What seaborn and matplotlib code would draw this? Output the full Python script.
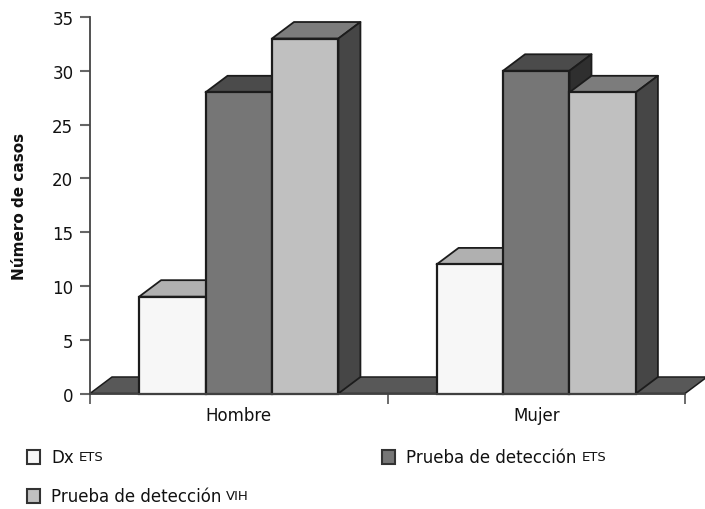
import matplotlib
matplotlib.use("Agg")
import matplotlib.pyplot as plt
from matplotlib.patches import Polygon
import pandas as pd
import seaborn as sns

categories = ["Hombre", "Mujer"]
series_names = ["Dx ETS", "Prueba de detección ETS", "Prueba de detección VIH"]
dx_ets = [9, 12]
prueba_ets = [28, 30]
prueba_vih = [33, 28]
y_ticks = [0, 5, 10, 15, 20, 25, 30, 35]

front_colors = ["#f7f7f7", "#767676", "#c0c0c0"]
top_colors = ["#b0b0b0", "#4b4b4b", "#7c7c7c"]
side_colors = ["#8a8a8a", "#2f2f2f", "#464646"]
edge = "#1c1c1c"
floor_color = "#585858"
text_color = "#111111"

sns.set_theme(style="white")
plt.rcParams["font.family"] = ["DejaVu Sans"]

df = pd.DataFrame({
    "cat": categories * 3,
    "serie": [s for s in series_names for _ in categories],
    "val": dx_ets + prueba_ets + prueba_vih,
})

W, H = 705, 510
fig = plt.figure(figsize=(W / 100, H / 100), dpi=100, facecolor="white")
ax = fig.add_axes([90 / W, 1 - 394.5 / H, 595 / W, 376.5 / H])

sns.barplot(data=df, x="cat", y="val", hue="serie", hue_order=series_names,
            palette=front_colors, saturation=1, width=0.67, gap=0, dodge=True,
            edgecolor=edge, linewidth=1.6, legend=False, ax=ax)

ax.set_xlim(-0.5, 1.5)
ax.set_ylim(0, 35)

ddx = 22 / 297.5
ddy = 16.5 / (376.5 / 35)

ax.add_patch(Polygon([(-0.5, 0), (-0.5 + ddx, ddy), (1.5 + ddx, ddy), (1.5, 0)],
                     closed=True, facecolor=floor_color, edgecolor=edge, linewidth=1.1,
                     clip_on=False, zorder=1))

tagged = []
for s_i, container in enumerate(ax.containers):
    for b in container:
        tagged.append((b.get_x(), s_i, b))
tagged.sort(key=lambda t: t[0])
z = 2
for x0, s_i, b in tagged:
    w, h = b.get_width(), b.get_height()
    ax.add_patch(Polygon([(x0, h), (x0 + ddx, h + ddy), (x0 + w + ddx, h + ddy), (x0 + w, h)],
                         closed=True, facecolor=top_colors[s_i], edgecolor=edge,
                         linewidth=1.3, clip_on=False, zorder=z, joinstyle="round"))
    ax.add_patch(Polygon([(x0 + w, 0), (x0 + w + ddx, ddy), (x0 + w + ddx, h + ddy), (x0 + w, h)],
                         closed=True, facecolor=side_colors[s_i], edgecolor=edge,
                         linewidth=1.3, clip_on=False, zorder=z + 1, joinstyle="round"))
    b.set_zorder(z + 2)
    b.set_clip_on(False)
    z += 3

for s in ["top", "right"]:
    ax.spines[s].set_visible(False)
for s in ["left", "bottom"]:
    ax.spines[s].set_color("#444444")
    ax.spines[s].set_linewidth(1.3)
    ax.spines[s].set_zorder(z + 5)

ax.set_yticks(y_ticks)
ax.set_xticks([-0.5, 0.5, 1.5], minor=True)
ax.tick_params(axis="x", which="major", length=0, pad=9, labelsize=12, labelcolor=text_color)
ax.tick_params(axis="x", which="minor", length=7, width=1.1, color="#444444", bottom=True)
ax.tick_params(axis="y", length=7, width=1.5, color="#666666", left=True, pad=5,
               labelsize=12, labelcolor=text_color)
ax.set_xlabel("")
ax.set_ylabel("Número de casos", fontsize=11, fontweight="bold", color=text_color, labelpad=0)
ax.yaxis.set_label_coords(27.5 / W, 1 - 206 / H, transform=fig.transFigure)

base_labels = ["Dx", "Prueba de detección", "Prueba de detección"]
suffixes = ["ETS", "ETS", "VIH"]
leg_pos = [(27, 458), (382, 458), (27, 497)]
for c, lab, suf, (lx, ly) in zip(front_colors, base_labels, suffixes, leg_pos):
    fig.add_artist(plt.Rectangle((lx / W, 1 - (ly + 7) / H), 13 / W, 14 / H,
                                 transform=fig.transFigure, facecolor=c,
                                 edgecolor="#333333", linewidth=1.5))
    t = fig.text((lx + 24) / W, 1 - ly / H, lab, fontsize=12, va="center", ha="left", color=text_color)
    fig.canvas.draw()
    end = t.get_window_extent().x1
    fig.text((end + 5) / W, 1 - ly / H, suf, fontsize=9.5, va="center", ha="left", color=text_color)

fig.savefig("out.png", dpi=100, facecolor="white")
